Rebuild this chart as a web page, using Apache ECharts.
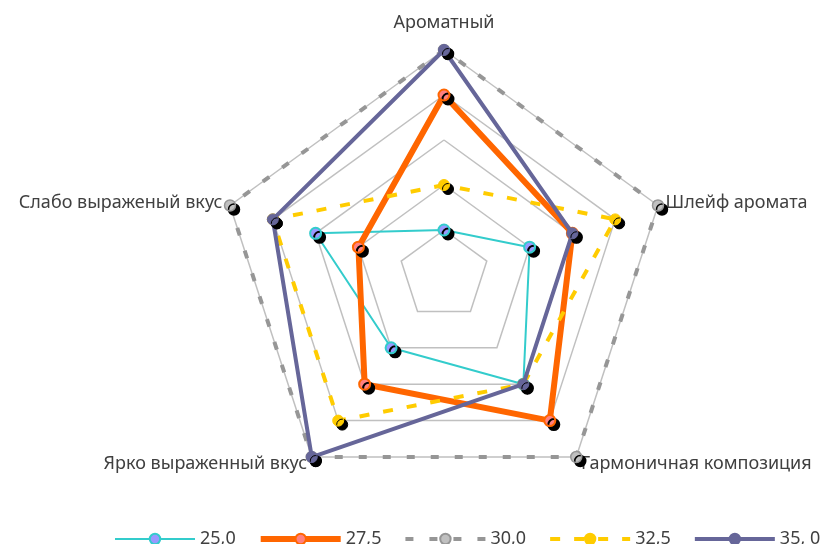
<!DOCTYPE html>
<html>
<head>
<meta charset="utf-8">
<script src="https://cdn.jsdelivr.net/npm/echarts@6/dist/echarts.min.js"></script>
<style>
  html, body { margin: 0; padding: 0; background: #ffffff; }
  #chart { width: 826px; height: 544px; }
</style>
</head>
<body>
<div id="chart"></div>
<script>
// Indicators, listed counter-clockwise starting from the top axis
const indicatorNames = [
  'Ароматный',
  'Слабо выраженый вкус',
  'Ярко выраженный вкус',
  'Гармоничная композиция',
  'Шлейф аромата'
];
const axisMax = 5;

const seriesNames = ['25,0', '27,5', '30,0', '32,5', '35, 0'];

const values250 = [1, 3, 2, 3, 2];
const values275 = [4, 2, 3, 4, 3];
const values300 = [5, 5, 5, 5, 5];
const values325 = [2, 4, 4, 3, 4];
const values350 = [5, 4, 5, 3, 3];

const seriesValues = [values250, values275, values300, values325, values350];

// Line and marker styling per series
const styles = [
  { line: '#33CCCC', width: 2, dash: 'solid', fill: '#9999FF', border: '#33CCCC', borderWidth: 2, size: 11 },
  { line: '#FF6600', width: 6, dash: 'solid', fill: '#FF8080', border: '#FF6600', borderWidth: 2, size: 11 },
  { line: '#969696', width: 4, dash: [8, 16], fill: '#C0C0C0', border: '#969696', borderWidth: 1.5, size: 11 },
  { line: '#FFCC00', width: 4, dash: [10, 14], fill: '#FFCC00', border: '#FFCC00', borderWidth: 1, size: 11 },
  { line: '#666699', width: 4, dash: 'solid', fill: '#666699', border: '#666699', borderWidth: 1, size: 11 }
];

const FONT = 'Noto Sans';
const TEXT_COLOR = '#404040';

// Empty line series only supply line+marker legend icons
const legendSeries = seriesNames.map((name, i) => ({
  name: name,
  type: 'line',
  xAxisIndex: 0,
  yAxisIndex: 0,
  data: [],
  symbol: 'circle',
  symbolSize: styles[i].size,
  lineStyle: { color: styles[i].line, width: styles[i].width, type: styles[i].dash },
  itemStyle: { color: styles[i].fill, borderColor: styles[i].border, borderWidth: styles[i].borderWidth }
}));

const radarSeries = seriesNames.map((name, i) => ({
  name: name,
  type: 'radar',
  radarIndex: 0,
  symbol: 'circle',
  symbolSize: styles[i].size,
  lineStyle: { color: styles[i].line, width: styles[i].width, type: styles[i].dash, cap: 'butt' },
  itemStyle: {
    color: styles[i].fill,
    borderColor: styles[i].border,
    borderWidth: styles[i].borderWidth,
    shadowColor: '#000000',
    shadowBlur: 0,
    shadowOffsetX: 4,
    shadowOffsetY: 4
  },
  emphasis: { disabled: true },
  data: [{ name: name, value: seriesValues[i] }],
  z: 2 + i
}));

const chart = echarts.init(document.getElementById('chart'), null, { renderer: 'canvas' });

chart.setOption({
  animation: false,
  backgroundColor: '#ffffff',
  textStyle: { fontFamily: FONT },
  grid: { show: false, left: 0, top: 0, width: 1, height: 1 },
  xAxis: { show: false, type: 'category', data: [] },
  yAxis: { show: false, type: 'value' },
  legend: {
    data: seriesNames,
    left: 114,
    top: 530,
    width: 712,
    padding: 0,
    itemWidth: 80,
    itemHeight: 13,
    itemGap: 22,
    textStyle: { fontFamily: FONT, fontSize: 18, color: TEXT_COLOR },
    lineStyle: { width: 'inherit', type: 'inherit' },
    selectedMode: false
  },
  radar: {
    center: [444, 275],
    radius: 225,
    startAngle: 90,
    shape: 'polygon',
    splitNumber: 5,
    nameGap: 8,
    axisName: {
      color: TEXT_COLOR,
      fontFamily: FONT,
      fontSize: 18,
      formatter: function (name) {
        return name === indicatorNames[0] ? '{top|' + name + '}' : name;
      },
      rich: {
        top: { fontFamily: FONT, fontSize: 18, color: TEXT_COLOR, padding: [0, 0, 10, 0] }
      }
    },
    indicator: indicatorNames.map(n => ({ name: n, min: 0, max: axisMax })),
    axisLine: { show: false },
    axisTick: { show: false },
    axisLabel: { show: false },
    splitLine: { lineStyle: { color: '#C0C0C0', width: 1.5 } },
    splitArea: { show: false }
  },
  series: legendSeries.concat(radarSeries)
});
</script>
</body>
</html>
